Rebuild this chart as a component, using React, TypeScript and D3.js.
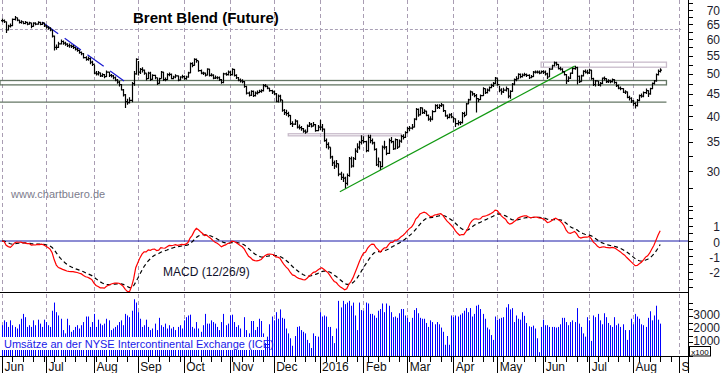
import React from 'react';
import * as d3 from 'd3';

// ---- months (trading-day counts per month, Jun 2015 .. Aug 2016) ----
const monthLabels = ['Jun', 'Jul', 'Aug', 'Sep', 'Oct', 'Nov', 'Dec', '2016', 'Feb', 'Mar', 'Apr', 'May', 'Jun', 'Jul', 'Aug', 'S'];
const monthDays = [21, 23, 21, 22, 22, 21, 22, 21, 21, 22, 21, 22, 22, 21, 22];

// ---- daily closes ----
const closes = [
  66.2, 65.8, 63.0, 64.3, 64.5, 66.6, 67.2, 66.4, 65.6, 65.8, 65.2, 65.6, 65.0, 65.4, 64.2, 65.3, 65.0, 65.6, 64.9, 65.4, 64.4,
  64.0, 63.6, 63.0, 61.0, 57.5, 57.5, 58.6, 59.3, 58.8, 58.5, 58.0, 58.0, 57.8, 57.5, 57.0, 56.6, 56.0, 55.6, 54.5, 54.0, 54.2, 53.2, 52.6,
  50.2, 50.0, 50.3, 49.5, 49.8, 49.3, 50.5, 49.6, 49.5, 49.0, 48.4, 47.9, 47.3, 46.0, 44.8, 43.2, 43.0, 43.5, 47.5, 50.0, 54.0,
  50.5, 51.2, 51.0, 50.2, 48.8, 50.2, 48.6, 49.6, 49.0, 47.6, 48.8, 50.5, 48.5, 48.5, 49.8, 49.9, 48.8, 49.2, 49.5, 48.4, 49.2, 49.3,
  48.8, 49.2, 50.3, 52.8, 52.3, 54.0, 53.6, 50.9, 50.2, 50.2, 49.7, 51.3, 49.6, 49.7, 48.9, 49.0, 49.0, 48.5, 47.8, 50.0, 49.8, 50.5,
  49.8, 51.2, 49.6, 49.0, 48.4, 48.2, 48.0, 46.8, 45.2, 44.7, 45.6, 44.6, 45.2, 45.3, 45.6, 45.8, 47.0, 46.9, 46.4, 45.8, 45.5,
  45.0, 43.3, 44.5, 43.6, 41.3, 40.8, 40.6, 40.2, 38.5, 38.4, 39.0, 37.8, 37.7, 37.5, 37.0, 36.8, 38.0, 38.4, 38.0, 38.3, 37.1, 37.8,
  37.8, 37.4, 35.2, 34.5, 34.0, 32.3, 31.3, 30.8, 31.2, 29.5, 29.0, 28.9, 28.1, 29.3, 32.0, 30.8, 32.0, 33.3, 34.0, 34.9, 35.2,
  35.0, 33.4, 35.8, 35.2, 34.8, 33.6, 31.0, 31.5, 30.7, 34.0, 34.0, 32.9, 35.2, 35.0, 33.7, 35.4, 34.0, 35.1, 36.0, 35.8, 36.7,
  37.5, 37.6, 37.8, 39.4, 41.5, 40.3, 41.8, 40.8, 41.1, 40.2, 39.4, 39.4, 41.0, 42.3, 41.9, 42.3, 42.5, 41.2, 40.1, 39.8, 40.3, 39.9,
  39.5, 38.5, 38.7, 38.7, 40.6, 40.2, 42.7, 43.6, 45.5, 45.0, 44.6, 43.9, 43.7, 44.6, 46.3, 45.3, 45.9, 46.5, 47.0, 47.6, 48.9,
  47.3, 45.9, 45.5, 45.9, 46.3, 44.5, 45.6, 47.4, 48.5, 48.7, 49.9, 49.3, 49.7, 49.8, 49.6, 49.0, 49.3, 50.5, 50.5, 50.5, 50.2, 50.6,
  50.5, 50.0, 49.2, 51.3, 52.2, 53.0, 52.6, 51.4, 51.3, 50.6, 49.8, 48.2, 48.9, 50.2, 51.4, 51.7, 49.4, 48.0, 49.5, 50.7, 50.5, 50.3,
  51.0, 48.8, 47.3, 48.2, 47.2, 47.6, 48.9, 48.8, 48.0, 48.2, 48.0, 48.5, 47.8, 47.0, 46.4, 46.3, 45.4, 45.5, 44.2, 44.0, 43.4,
  42.8, 42.3, 43.5, 44.6, 44.5, 45.3, 45.8, 45.0, 46.3, 47.6, 48.2, 49.8, 50.7, 51.0,
];

// ---- daily highs ----
const highs = [
  66.9, 66.6, 65.9, 64.8, 65.2, 66.9, 67.8, 67.3, 66.5, 66.3, 66.0, 66.1, 65.8, 65.8, 65.5, 65.6, 65.6, 66.0, 65.8, 65.7, 65.5,
  64.8, 64.3, 63.9, 63.2, 61.2, 58.4, 59.2, 59.9, 59.6, 59.2, 58.8, 58.7, 58.4, 58.2, 57.7, 57.3, 56.8, 56.3, 55.8, 54.9, 54.8, 54.5, 53.6,
  52.5, 50.8, 50.8, 50.4, 50.2, 50.0, 50.9, 50.6, 50.0, 49.7, 49.3, 48.7, 48.2, 47.4, 46.2, 45.0, 43.9, 44.2, 47.9, 50.8, 54.3,
  53.5, 51.6, 51.8, 51.2, 50.2, 50.6, 50.6, 49.9, 49.8, 49.1, 49.0, 50.8, 50.6, 49.1, 50.2, 50.4, 50.1, 49.5, 49.9, 49.6, 49.4, 49.8,
  49.6, 49.5, 50.6, 53.1, 53.2, 54.3, 54.2, 53.5, 51.2, 50.6, 50.4, 51.5, 51.4, 50.2, 49.9, 49.6, 49.4, 49.3, 48.7, 50.3, 50.4, 50.9,
  50.8, 51.5, 51.3, 49.9, 49.2, 48.8, 48.6, 48.2, 47.0, 45.6, 45.9, 45.8, 45.6, 45.8, 46.0, 46.1, 47.4, 47.4, 47.0, 46.5, 46.0,
  45.8, 45.2, 44.9, 44.8, 43.6, 41.6, 41.4, 41.0, 40.3, 39.0, 39.4, 39.2, 38.3, 38.0, 37.6, 37.3, 38.3, 38.8, 38.6, 38.8, 38.4, 38.2,
  39.3, 38.4, 37.5, 35.6, 34.9, 34.0, 32.5, 31.7, 31.8, 31.2, 29.9, 29.6, 29.1, 29.6, 32.3, 32.4, 32.3, 33.8, 34.7, 35.2, 36.2,
  36.0, 35.2, 36.3, 36.3, 35.6, 35.0, 33.8, 32.2, 31.6, 34.3, 35.2, 34.2, 35.6, 35.9, 35.2, 35.6, 35.5, 35.4, 36.3, 36.4, 37.0,
  37.8, 38.0, 38.4, 39.6, 41.8, 41.7, 42.0, 41.9, 41.5, 41.2, 40.4, 40.0, 41.3, 42.6, 42.6, 42.6, 42.9, 42.6, 41.3, 40.4, 40.6, 40.7,
  39.9, 39.6, 39.2, 39.0, 40.9, 41.0, 42.9, 43.9, 45.8, 45.6, 45.2, 45.0, 44.0, 44.9, 46.6, 46.3, 46.3, 46.8, 47.5, 47.9, 49.2,
  48.9, 47.0, 46.4, 46.5, 46.8, 46.4, 45.9, 47.7, 48.8, 49.4, 50.2, 50.1, 50.1, 50.3, 50.1, 49.9, 49.7, 50.8, 50.9, 50.9, 50.9, 50.9,
  51.0, 50.9, 50.3, 51.6, 52.5, 53.4, 53.3, 52.7, 51.9, 51.5, 50.8, 50.0, 49.4, 50.4, 51.7, 52.2, 51.9, 49.6, 49.8, 51.0, 51.2, 51.1,
  51.4, 51.1, 49.0, 48.4, 48.2, 47.9, 49.1, 49.3, 48.9, 48.6, 48.5, 48.8, 48.6, 48.0, 47.3, 46.8, 46.4, 45.9, 45.6, 44.6, 44.2,
  43.6, 43.1, 43.8, 44.9, 45.1, 45.6, 46.3, 45.9, 46.5, 47.8, 48.4, 50.1, 51.2, 51.5,
];

// ---- daily lows ----
const lows = [
  65.6, 65.4, 62.0, 62.8, 63.8, 64.3, 66.2, 66.0, 65.2, 65.1, 64.9, 64.9, 64.6, 64.8, 63.6, 64.1, 64.6, 64.8, 64.6, 64.7, 64.0,
  63.5, 63.1, 62.6, 60.6, 56.6, 56.8, 57.3, 58.4, 58.3, 58.0, 57.6, 57.4, 57.3, 57.0, 56.6, 56.2, 55.6, 55.2, 54.2, 53.6, 53.6, 52.6, 52.1,
  49.9, 49.6, 49.6, 49.2, 49.2, 48.9, 49.2, 49.2, 49.1, 48.6, 48.1, 47.5, 46.8, 45.8, 44.4, 41.8, 42.5, 42.8, 43.1, 47.0, 49.8,
  49.6, 50.0, 50.4, 49.8, 48.3, 48.7, 48.2, 48.5, 48.6, 47.2, 47.5, 48.8, 48.2, 48.1, 48.4, 49.4, 48.6, 48.6, 48.9, 48.1, 48.3, 48.8,
  48.5, 48.5, 49.0, 50.2, 51.8, 52.2, 53.0, 50.6, 49.9, 49.7, 49.3, 49.6, 49.3, 49.3, 48.6, 48.7, 48.6, 48.2, 47.5, 47.6, 49.5, 49.6,
  49.4, 49.6, 49.3, 48.7, 48.1, 47.8, 47.6, 46.5, 44.9, 44.4, 44.5, 44.3, 44.4, 44.9, 45.2, 45.3, 45.6, 46.6, 46.1, 45.5, 45.0,
  44.7, 43.1, 43.0, 43.2, 41.0, 40.3, 40.1, 39.8, 38.2, 37.8, 38.2, 37.5, 37.3, 37.1, 36.7, 36.5, 36.8, 37.8, 37.7, 37.9, 36.9, 37.0,
  37.2, 36.9, 35.0, 33.8, 33.6, 32.0, 30.8, 30.3, 30.5, 29.2, 28.6, 28.3, 27.4, 27.8, 29.1, 30.5, 30.6, 31.8, 33.0, 33.6, 34.5,
  34.7, 33.1, 33.2, 34.7, 34.5, 33.4, 30.8, 30.6, 30.2, 30.6, 33.6, 32.6, 32.8, 34.7, 33.5, 33.6, 33.7, 34.0, 34.8, 35.4, 35.7,
  36.6, 37.0, 37.3, 37.7, 39.2, 39.9, 40.2, 40.5, 40.5, 40.0, 39.1, 38.9, 39.2, 40.9, 41.6, 41.6, 42.0, 40.9, 39.9, 39.4, 39.6, 39.6,
  38.7, 37.8, 38.1, 38.2, 38.5, 39.8, 40.3, 42.6, 43.5, 44.6, 44.2, 40.8, 43.1, 43.6, 44.5, 45.0, 45.1, 45.6, 46.4, 46.7, 47.4,
  47.0, 45.4, 44.8, 45.2, 45.6, 44.0, 43.9, 45.5, 47.1, 48.1, 48.6, 48.9, 49.1, 49.4, 49.2, 48.7, 48.9, 49.2, 50.1, 50.1, 49.9, 50.1,
  50.0, 49.6, 48.7, 49.2, 51.1, 52.0, 52.2, 51.2, 50.9, 50.3, 49.6, 47.4, 47.9, 48.7, 50.0, 51.1, 47.3, 47.7, 48.0, 49.3, 50.1, 49.9,
  50.0, 48.5, 46.9, 46.8, 46.9, 46.8, 47.4, 48.3, 47.7, 47.7, 47.6, 47.8, 47.5, 46.7, 46.1, 45.9, 45.2, 45.0, 44.0, 43.5, 42.9,
  42.3, 41.7, 42.1, 43.3, 44.1, 44.2, 45.0, 44.3, 44.8, 46.1, 47.3, 48.0, 49.6, 50.4,
];

// ---- daily volume (x100 contracts) ----
const volumes = [
  2300, 2670, 2540, 2170, 2670, 2300, 2170, 2050, 2370, 2790, 3160, 2910, 2170, 2300, 2170, 2670, 2300, 2720, 2420, 2170, 2720,
  2540, 2300, 2170, 3400, 4020, 3290, 3040, 2790, 1930, 1680, 2790, 2300, 1800, 1930, 2170, 2300, 2050, 2300, 2540, 2960, 2960, 2170, 2540,
  3160, 2170, 2720, 2420, 2300, 2420, 2790, 2670, 1930, 2050, 2170, 2300, 2540, 2670, 2300, 3160, 3040, 2910, 3400, 4270, 4020,
  3290, 2790, 2170, 2300, 2720, 2170, 1930, 2050, 2420, 1930, 2860, 2300, 2170, 2420, 2050, 2300, 2050, 2170, 1930, 2170, 2300, 2050,
  2670, 2910, 3040, 3100, 2170, 2050, 2540, 2050, 1800, 2300, 3160, 2420, 2420, 2670, 2540, 2420, 2170, 1930, 2540, 3160, 2300, 2420,
  3040, 3100, 2540, 2170, 2300, 2050, 940, 2910, 1930, 1680, 2620, 2620, 1930, 2170, 2790, 2620, 1680, 940, 1430, 2370, 2960,
  2670, 3290, 2790, 3500, 2860, 2790, 2050, 1680, 1310, 740, 1480, 2170, 2220, 1930, 1800, 1680, 1185, 940, 570, 1680, 1480, 1430,
  3290, 2960, 3040, 2960, 2170, 2170, 1480, 940, 2050, 4150, 3650, 4150, 3900, 4020, 4150, 3780, 4020, 3040, 1930, 4020, 3450,
  3400, 4020, 3950, 3160, 3160, 3040, 2860, 3400, 3530, 3950, 3290, 3950, 3780, 3290, 2910, 2960, 2860, 3210, 3530, 3530, 3040,
  2860, 2540, 2860, 3450, 3600, 3210, 2860, 2790, 2790, 2470, 2170, 2670, 2540, 2370, 2540, 2370, 2120, 1800, 815, 1480, 815, 3040,
  2910, 3040, 2960, 3100, 3210, 3400, 3600, 3290, 3600, 2960, 3160, 3780, 3850, 3530, 3160, 2790, 2120, 1980, 1550, 1185, 2960,
  2720, 2790, 2860, 2910, 3650, 3900, 3500, 3600, 2540, 3040, 2790, 2720, 3290, 3010, 2470, 2220, 2170, 2270, 2050, 1310, 250, 2170,
  2720, 2300, 2300, 2170, 2170, 2170, 2120, 2170, 2370, 2860, 2860, 2540, 2300, 2540, 2670, 2540, 3600, 2420, 2170, 1680, 1430, 2910,
  2670, 1110, 3040, 2910, 3160, 2670, 2370, 3210, 2910, 2470, 2300, 2170, 2910, 2300, 2420, 2170, 2370, 1930, 1185, 1930, 2790,
  2370, 3160, 2960, 2790, 2370, 2300, 2170, 2860, 3360, 2670, 3040, 3780, 2720, 2420,
];

// ---- axis tick labels ----
const priceLabels = [30, 35, 40, 45, 50, 55, 60, 65, 70];
const macdLabels = [-2, -1, 0, 1];
const volumeLabels = [1000, 2000, 3000];

// ---- annotations (bar index, price) ----
const zoneBoxes = [
  { i0: -1, i1: 318, top: 48.3, bottom: 47.2, kind: 'dark' },
  { i0: 258, i1: 318, top: 53.2, bottom: 51.8, kind: 'light' },
  { i0: 137, i1: 191, top: 36.5, bottom: 36.1, kind: 'light' },
];
const levelLines = [{ i0: -1, i1: 318, price: 43.1 }];
const dottedLevels = [{ i0: -1, i1: 325, price: 63.5 }];
const greenTrend = [{ i: 161.7, p: 26.9 }, { i: 274.1, p: 52.1 }];
const blueTrend = [{ i: 19.1, p: 65.7 }, { i: 58.4, p: 48.2 }];

function ema(values: number[], n: number): number[] {
  const k = 2 / (n + 1);
  let prev = values[0];
  return values.map((v, i) => {
    if (i === 0) return prev;
    prev = v * k + prev * (1 - k);
    return prev;
  });
}

export default function App() {
  const W = 723;
  const H = 373;
  const axisX = 688;
  const font = 'Liberation Sans, Arial, Helvetica, sans-serif';

  const monthStarts: number[] = [0];
  monthDays.forEach((d) => monthStarts.push(monthStarts[monthStarts.length - 1] + d));
  const totalDays = monthStarts[monthStarts.length - 1];

  const x = d3.scaleLinear().domain([0, totalDays]).range([2, 679]);
  const y = d3.scaleLog().domain([30, 70]).range([171, 10]);
  const yM = d3.scaleLinear().domain([0, 1]).range([241, 225.7]);
  const yV = d3.scaleLinear().domain([0, 3000]).range([355.5, 316]);

  const n = closes.length;
  const e12 = ema(closes, 12);
  const e26 = ema(closes, 26);
  const macd = closes.map((_, i) => e12[i] - e26[i]);
  const signal = ema(macd, 9);

  const macdLine = d3.line<number>().x((_, i) => x(i)).y((d) => yM(d));

  const barPath = d3.range(n).map((i) => {
    const cx = Math.round(x(i)) + 0.5;
    const hi = highs[i] ?? closes[i];
    const lo = lows[i] ?? closes[i];
    const op = i > 0 ? closes[i - 1] : closes[i];
    return `M${cx},${y(hi)}V${y(lo)}M${cx - 1.5},${y(op)}H${cx}M${cx},${y(closes[i])}H${cx + 1.5}`;
  }).join('');

  const priceTicks = d3.range(25, 75.1, 2.5);
  const macdTicks = d3.range(-3, 2.01, 0.5);
  const volTicks = d3.range(0, 4001, 500);
  const weekTicks = d3.range(0, totalDays + 1, 5);

  return (
    <svg width={W} height={H} style={{ position: 'absolute', left: 0, top: 0, background: '#fff' }} fontFamily={font}>
      <rect x={0} y={0} width={W} height={H} fill="#fff" />

      {/* month grid */}
      {monthStarts.map((m, k) => (
        <line key={'g' + k} x1={Math.round(x(m)) + 0.5} x2={Math.round(x(m)) + 0.5} y1={0} y2={356}
          stroke="#a99db3" strokeDasharray="4,3" strokeWidth={1} />
      ))}

      {/* dotted resistance */}
      {dottedLevels.map((l, k) => (
        <line key={'d' + k} x1={x(l.i0)} x2={x(l.i1)} y1={Math.round(y(l.price)) + 0.5} y2={Math.round(y(l.price)) + 0.5}
          stroke="#a9a0b6" strokeDasharray="3,2" strokeWidth={1} />
      ))}

      {/* zones */}
      {zoneBoxes.map((b, k) => (
        <rect key={'z' + k} x={Math.max(0, x(b.i0))} y={y(b.top)} width={x(b.i1) - Math.max(0, x(b.i0))} height={y(b.bottom) - y(b.top)}
          fill="none" stroke={b.kind === 'dark' ? '#647664' : '#c9bccb'} strokeWidth={1.3} />
      ))}
      {levelLines.map((l, k) => (
        <line key={'l' + k} x1={Math.max(0, x(l.i0))} x2={x(l.i1)} y1={y(l.price)} y2={y(l.price)} stroke="#647664" strokeWidth={1.3} />
      ))}

      {/* trend lines */}
      <line x1={x(greenTrend[0].i)} y1={y(greenTrend[0].p)} x2={x(greenTrend[1].i)} y2={y(greenTrend[1].p)} stroke="#119911" strokeWidth={1.2} />
      <line x1={x(blueTrend[0].i)} y1={y(blueTrend[0].p)} x2={x(blueTrend[1].i)} y2={y(blueTrend[1].p)} stroke="#1a1ad0" strokeWidth={1.2} strokeDasharray="20,8" />

      {/* price bars */}
      <path d={barPath} stroke="#000" strokeWidth={1.2} fill="none" />

      {/* title & watermark */}
      <text x={133} y={23} fontSize={15} fontWeight="bold" fill="#000">Brent Blend (Future)</text>
      <text x={11} y={198} fontSize={11} fill="#7c7c8c">www.chartbuero.de</text>

      {/* MACD */}
      <line x1={0} x2={axisX} y1={yM(0)} y2={yM(0)} stroke="#1a1aa8" strokeWidth={1} />
      <path d={macdLine(signal) || ''} fill="none" stroke="#000" strokeWidth={1.2} strokeDasharray="4,3" />
      <path d={macdLine(macd) || ''} fill="none" stroke="#ff0000" strokeWidth={1.2} />
      <text x={163} y={276} fontSize={12} fill="#10102a">MACD (12/26/9)</text>

      {/* separator */}
      <line x1={0} x2={axisX} y1={292.5} y2={292.5} stroke="#000" strokeWidth={1} />

      {/* volume */}
      {volumes.slice(0, n).map((v, i) => (
        <line key={'v' + i} x1={Math.round(x(i)) + 0.5} x2={Math.round(x(i)) + 0.5} y1={356} y2={yV(v)} stroke="#0000ff" strokeWidth={1} />
      ))}
      <rect x={2} y={337} width={262} height={13} fill="#fff" />
      <text x={4} y={347.5} fontSize={11} fill="#1818e8">Umsätze an der NYSE Intercontinental Exchange (ICE)</text>

      {/* bottom axis */}
      <line x1={0} x2={axisX} y1={356.5} y2={356.5} stroke="#000" strokeWidth={1} />
      {weekTicks.map((t) => (
        <line key={'w' + t} x1={Math.round(x(t)) + 0.5} x2={Math.round(x(t)) + 0.5} y1={356} y2={362} stroke="#000" strokeWidth={1} />
      ))}
      {monthStarts.map((m, k) => (
        <g key={'m' + k}>
          <line x1={Math.round(x(m)) + 0.5} x2={Math.round(x(m)) + 0.5} y1={356} y2={373} stroke="#000" strokeWidth={1} />
          <text x={x(m) + 2.5} y={371} fontSize={12} fill="#111">{monthLabels[k]}</text>
        </g>
      ))}

      {/* right axis */}
      <line x1={axisX + 0.5} x2={axisX + 0.5} y1={0} y2={H} stroke="#000" strokeWidth={1} />
      {priceTicks.map((p) => (
        <line key={'pt' + p} x1={axisX} x2={axisX + 5} y1={Math.round(y(p)) + 0.5} y2={Math.round(y(p)) + 0.5} stroke="#000" />
      ))}
      {priceLabels.map((p) => (
        <text key={'pl' + p} x={720} y={y(p) + 4.5} fontSize={12} textAnchor="end" fill="#1c1c2c">{p}</text>
      ))}
      {macdTicks.map((m) => (
        <line key={'mt' + m} x1={axisX} x2={axisX + 5} y1={Math.round(yM(m)) + 0.5} y2={Math.round(yM(m)) + 0.5} stroke="#000" />
      ))}
      {macdLabels.map((m) => (
        <text key={'ml' + m} x={720} y={yM(m) + 5.5} fontSize={12} textAnchor="end" fill="#1c1c2c">{m}</text>
      ))}
      {volTicks.map((v) => (
        <line key={'vt' + v} x1={axisX} x2={axisX + 5} y1={Math.round(yV(v)) + 0.5} y2={Math.round(yV(v)) + 0.5} stroke="#000" />
      ))}
      {volumeLabels.map((v) => (
        <text key={'vl' + v} x={720} y={yV(v) + 2.5} fontSize={12} textAnchor="end" fill="#1c1c2c">{v}</text>
      ))}
      <rect x={689.5} y={346.5} width={21} height={9.5} fill="#fff" stroke="#000" strokeWidth={1} />
      <text x={700} y={355} fontSize={8} textAnchor="middle" fill="#000">x100</text>
    </svg>
  );
}
